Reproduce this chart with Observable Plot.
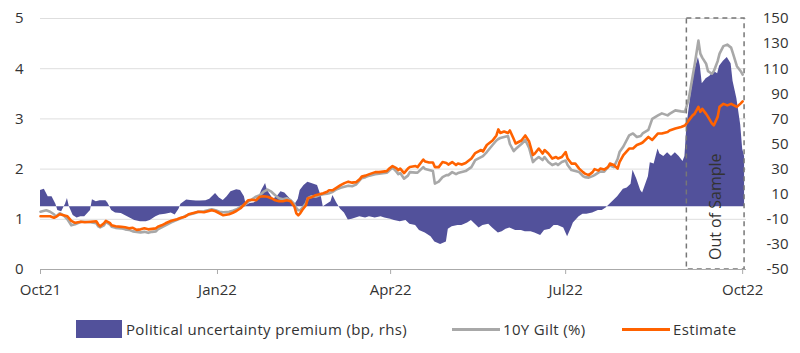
<!DOCTYPE html>
<html>
<head>
<meta charset="utf-8">
<script src="https://cdn.jsdelivr.net/npm/d3@7"></script>
<script src="https://cdn.jsdelivr.net/npm/@observablehq/plot@0.6"></script>
<style>
  html, body { margin: 0; padding: 0; background: #fff; }
  body { width: 800px; height: 353px; overflow: hidden; font-family: "Open Sans", sans-serif; color: #333; }
  #chart svg { display: block; }
  #legend { position: relative; height: 48px; }
  #legend .item { position: absolute; top: 15px; height: 18px; display: flex; align-items: center; font-size: 15px; letter-spacing: 0.35px; white-space: nowrap; color: #333; }
  #legend .box { width: 46px; height: 18px; margin-right: 4px; }
  #legend .ln { width: 48px; height: 3px; margin-right: 3px; }
</style>
</head>
<body>
<div id="chart"></div>
<div id="legend"></div>
<script>
// ---------- data ----------
const lineDates = [
  "2021-10-01","2021-10-04","2021-10-06","2021-10-08","2021-10-09","2021-10-11","2021-10-13","2021-10-15","2021-10-17","2021-10-19",
  "2021-10-22","2021-10-24","2021-10-27","2021-10-30","2021-10-31","2021-11-01","2021-11-03","2021-11-04","2021-11-06","2021-11-07",
  "2021-11-09","2021-11-12","2021-11-14","2021-11-16","2021-11-18","2021-11-20","2021-11-22","2021-11-24","2021-11-26","2021-11-28",
  "2021-11-30","2021-12-01","2021-12-03","2021-12-05","2021-12-08","2021-12-11","2021-12-13","2021-12-15","2021-12-17","2021-12-20",
  "2021-12-22","2021-12-25","2021-12-27","2021-12-29","2021-12-31","2022-01-02","2022-01-04","2022-01-07","2022-01-09","2022-01-11",
  "2022-01-13","2022-01-15","2022-01-17","2022-01-19","2022-01-21","2022-01-23","2022-01-25","2022-01-27","2022-01-29","2022-01-31",
  "2022-02-02","2022-02-04","2022-02-06","2022-02-08","2022-02-10","2022-02-11","2022-02-12","2022-02-13","2022-02-14","2022-02-16",
  "2022-02-17","2022-02-19","2022-02-21","2022-02-23","2022-02-25","2022-02-27","2022-02-28","2022-03-02","2022-03-04","2022-03-06",
  "2022-03-08","2022-03-10","2022-03-12","2022-03-14","2022-03-16","2022-03-17","2022-03-19","2022-03-21","2022-03-24","2022-03-26",
  "2022-03-28","2022-03-30","2022-03-31","2022-04-02","2022-04-04","2022-04-05","2022-04-06","2022-04-08","2022-04-10","2022-04-11",
  "2022-04-14","2022-04-15","2022-04-18","2022-04-19","2022-04-21","2022-04-23","2022-04-24","2022-04-26","2022-04-28","2022-04-30",
  "2022-05-01","2022-05-03","2022-05-05","2022-05-06","2022-05-08","2022-05-10","2022-05-13","2022-05-15","2022-05-18","2022-05-19",
  "2022-05-21","2022-05-24","2022-05-26","2022-05-27","2022-05-28","2022-05-30","2022-06-01","2022-06-02","2022-06-04","2022-06-05",
  "2022-06-08","2022-06-10","2022-06-12","2022-06-14","2022-06-15","2022-06-17","2022-06-19","2022-06-20","2022-06-22","2022-06-24",
  "2022-06-26","2022-06-27","2022-06-29","2022-07-01","2022-07-02","2022-07-04","2022-07-06","2022-07-08","2022-07-10","2022-07-11",
  "2022-07-13","2022-07-15","2022-07-16","2022-07-18","2022-07-19","2022-07-21","2022-07-23","2022-07-24","2022-07-26","2022-07-28",
  "2022-07-29","2022-07-31","2022-08-03","2022-08-05","2022-08-07","2022-08-09","2022-08-10","2022-08-13","2022-08-15","2022-08-18",
  "2022-08-20","2022-08-23","2022-08-24","2022-08-27","2022-08-30","2022-09-01","2022-09-03","2022-09-05","2022-09-06","2022-09-08",
  "2022-09-09","2022-09-10","2022-09-12","2022-09-13","2022-09-15","2022-09-16","2022-09-18","2022-09-19","2022-09-21","2022-09-23",
  "2022-09-25","2022-09-26","2022-09-28","2022-09-30","2022-10-01"
];
const estimate = [
  1.06,1.06,1.06,1.03,1.05,1.10,1.08,1.06,0.97,0.93,
  0.95,0.94,0.95,0.96,0.90,0.86,0.92,0.97,0.93,0.88,
  0.86,0.85,0.84,0.82,0.83,0.79,0.80,0.82,0.80,0.81,
  0.82,0.85,0.88,0.92,0.97,1.00,1.03,1.05,1.10,1.13,
  1.15,1.14,1.16,1.18,1.16,1.12,1.08,1.10,1.13,1.17,
  1.22,1.30,1.38,1.39,1.38,1.45,1.46,1.45,1.42,1.38,
  1.36,1.36,1.38,1.36,1.25,1.12,1.08,1.12,1.18,1.28,
  1.42,1.44,1.48,1.50,1.52,1.55,1.58,1.58,1.63,1.68,
  1.72,1.75,1.73,1.74,1.80,1.85,1.87,1.90,1.94,1.94,
  1.95,1.96,2.00,2.06,2.02,1.98,2.01,1.92,2.01,2.04,
  2.06,2.04,2.19,2.15,2.13,2.13,2.04,2.04,2.14,2.12,
  2.09,2.14,2.08,2.11,2.09,2.12,2.21,2.32,2.38,2.35,
  2.48,2.57,2.67,2.79,2.72,2.75,2.72,2.77,2.60,2.51,
  2.57,2.67,2.55,2.28,2.31,2.41,2.31,2.38,2.31,2.21,
  2.24,2.21,2.24,2.34,2.21,2.11,2.11,2.01,1.94,1.91,
  1.88,1.94,2.00,1.97,2.01,1.99,2.04,2.11,2.08,2.01,
  2.14,2.28,2.41,2.41,2.48,2.51,2.53,2.64,2.58,2.71,
  2.71,2.74,2.77,2.81,2.84,2.87,2.97,3.07,3.10,3.24,
  3.14,3.20,3.10,3.04,2.91,2.87,3.04,3.24,3.30,3.27,
  3.30,3.28,3.24,3.31,3.35
];
const gilt = [
  1.15,1.18,1.15,1.10,1.05,1.12,1.08,1.00,0.88,0.90,
  0.95,0.95,0.94,0.92,0.86,0.84,0.88,0.95,0.90,0.85,
  0.83,0.82,0.80,0.79,0.76,0.75,0.74,0.75,0.73,0.75,
  0.76,0.80,0.84,0.88,0.94,0.99,1.02,1.06,1.09,1.12,
  1.15,1.16,1.18,1.20,1.18,1.15,1.14,1.15,1.17,1.20,
  1.25,1.28,1.35,1.40,1.45,1.48,1.55,1.59,1.55,1.48,
  1.42,1.40,1.42,1.38,1.30,1.22,1.18,1.18,1.22,1.32,
  1.42,1.46,1.45,1.48,1.50,1.51,1.52,1.55,1.60,1.63,
  1.65,1.67,1.66,1.69,1.78,1.82,1.84,1.87,1.90,1.91,
  1.92,1.93,1.96,2.03,1.95,1.90,1.92,1.81,1.87,1.94,
  1.93,1.93,2.04,2.00,1.98,1.96,1.71,1.75,1.84,1.88,
  1.88,1.94,1.90,1.92,1.94,1.96,2.04,2.18,2.24,2.26,
  2.34,2.48,2.57,2.60,2.62,2.64,2.66,2.50,2.36,2.40,
  2.50,2.58,2.42,2.14,2.18,2.24,2.18,2.24,2.14,2.08,
  2.11,2.08,2.14,2.17,2.08,1.98,1.96,1.94,1.86,1.84,
  1.83,1.86,1.88,1.93,1.95,1.95,2.04,2.07,2.04,2.20,
  2.34,2.45,2.67,2.71,2.64,2.66,2.71,2.78,3.00,3.07,
  3.11,3.07,3.10,3.17,3.15,3.14,3.40,3.85,4.07,4.56,
  4.30,4.22,4.10,3.95,3.90,3.95,4.15,4.30,4.45,4.48,
  4.42,4.30,4.05,3.95,3.88
];
const premiumDates = [
  "2021-10-01","2021-10-03","2021-10-05","2021-10-07","2021-10-09","2021-10-10","2021-10-12","2021-10-14","2021-10-15","2021-10-16",
  "2021-10-18","2021-10-20","2021-10-22","2021-10-24","2021-10-27","2021-10-28","2021-10-30","2021-11-01","2021-11-04","2021-11-05",
  "2021-11-07","2021-11-09","2021-11-12","2021-11-14","2021-11-17","2021-11-19","2021-11-22","2021-11-25","2021-11-27","2021-11-30",
  "2021-12-02","2021-12-05","2021-12-08","2021-12-10","2021-12-12","2021-12-13","2021-12-16","2021-12-18","2021-12-21","2021-12-23",
  "2021-12-26","2021-12-28","2021-12-31","2022-01-02","2022-01-04","2022-01-06","2022-01-08","2022-01-11","2022-01-13","2022-01-15",
  "2022-01-16","2022-01-18","2022-01-20","2022-01-22","2022-01-24","2022-01-26","2022-01-27","2022-01-30","2022-02-01","2022-02-03",
  "2022-02-05","2022-02-08","2022-02-10","2022-02-12","2022-02-13","2022-02-15","2022-02-17","2022-02-19","2022-02-22","2022-02-24",
  "2022-02-25","2022-02-27","2022-03-01","2022-03-02","2022-03-04","2022-03-06","2022-03-08","2022-03-10","2022-03-12","2022-03-14",
  "2022-03-16","2022-03-19","2022-03-21","2022-03-24","2022-03-27","2022-03-29","2022-04-01","2022-04-03","2022-04-06","2022-04-09",
  "2022-04-11","2022-04-14","2022-04-16","2022-04-19","2022-04-22","2022-04-24","2022-04-27","2022-04-30","2022-05-01","2022-05-03",
  "2022-05-06","2022-05-08","2022-05-11","2022-05-13","2022-05-15","2022-05-17","2022-05-19","2022-05-22","2022-05-24","2022-05-27",
  "2022-05-29","2022-05-31","2022-06-02","2022-06-05","2022-06-08","2022-06-10","2022-06-13","2022-06-15","2022-06-18","2022-06-20",
  "2022-06-23","2022-06-25","2022-06-27","2022-06-30","2022-07-02","2022-07-04","2022-07-05","2022-07-08","2022-07-10","2022-07-12",
  "2022-07-15","2022-07-18","2022-07-20","2022-07-22","2022-07-24","2022-07-26","2022-07-28","2022-07-31","2022-08-02","2022-08-04",
  "2022-08-05","2022-08-07","2022-08-09","2022-08-10","2022-08-13","2022-08-14","2022-08-16","2022-08-18","2022-08-19","2022-08-21",
  "2022-08-23","2022-08-25","2022-08-27","2022-08-29","2022-08-31","2022-09-01","2022-09-02","2022-09-04","2022-09-06","2022-09-08",
  "2022-09-09","2022-09-10","2022-09-12","2022-09-14","2022-09-16","2022-09-18","2022-09-19","2022-09-21","2022-09-23","2022-09-25",
  "2022-09-26","2022-09-28","2022-09-30","2022-10-01","2022-10-02"
];
const premium = [
  13,14,8,8,2,-3,-4,2,6.6,0,
  -7,-9,-8,-8,-3,5.6,4,4.7,4.7,3,
  -3,-5,-5.3,-7,-9.3,-11,-12,-12,-11,-8,
  -6.6,-6,-5,-6.6,-2,2,5.3,5,4.5,4.5,
  4.7,6,10.6,7,5,8,11.9,13.5,13,8,
  1,2.6,3,5,13,18.5,13,6,7.9,12,
  11,6,1,6,13,17,19.5,18.5,17,8,
  0,2,4,9,3,-2,-5,-10.6,-10,-9,
  -8,-9,-8,-9,-8,-9,-10,-11,-12,-11,
  -14,-15,-19,-21,-24,-28,-30,-28,-18,-16,
  -15,-15,-13,-11,-14,-17,-15,-14,-17,-21,
  -20,-18,-17,-19,-19,-20,-20,-21,-23,-19,
  -18,-15,-15,-17,-24,-17,-13,-8,-6,-6,
  -5,-3,-3,-1,2,5,8,14,15,18,
  29,22,13,11,24,35,34,46,42,40,
  43,40,43,40,36,40,64,88,108,119,
  112,98,102,104,108,106,112,116,119,114,
  100,86,65,46,40
];
const seriesNames = ["Political uncertainty premium (bp, rhs)", "10Y Gilt (%)", "Estimate"];
const seriesColors = ["#52519b", "#a8a8a8", "#ff6200"];
const leftTicks = [0, 1, 2, 3, 4, 5];
const rightTicks = [150, 130, 110, 90, 70, 50, 30, 10, -10, -30, -50];
const xTickDates = ["2021-10-01", "2022-01-01", "2022-04-01", "2022-07-01", "2022-10-01"];
const xTickLabels = ["Oct21", "Jan22", "Apr22", "Jul22", "Oct22"];
const outOfSample = [{start: "2022-09-02", end: "2022-10-02", mid: "2022-09-17", label: "Out of Sample"}];
const xDomain = ["2021-10-01", "2022-10-03"];
// rhs (bp) -> lhs (%) mapping of the twin axes: -50..150 bp <-> 0..5 %
const rhsToLhs = r => (r + 50) / 40;
const lhsToRhs = v => Math.round(v * 40 - 50);

// ---------- build ----------
const parse = s => new Date(s + "T00:00:00Z");
const lines = lineDates.map((d, i) => ({date: parse(d), est: estimate[i], gilt: gilt[i]}));
const prem = premiumDates.map((d, i) => ({date: parse(d), r: premium[i]}));
const tickDates = xTickDates.map(parse);
const fmtX = d => xTickLabels[tickDates.findIndex(t => +t === +d)];

const chart = Plot.plot({
  width: 800,
  height: 305,
  marginLeft: 40,
  marginRight: 54,
  marginTop: 18,
  marginBottom: 36,
  style: {fontFamily: "'Open Sans', sans-serif", fontSize: "15px", color: "#333", background: "#fff", overflow: "visible"},
  x: {type: "utc", domain: xDomain.map(parse)},
  y: {domain: [0, 5]},
  marks: [
    Plot.ruleY(leftTicks.filter(v => v > 0), {stroke: "#dedede", strokeWidth: 1}),
    Plot.areaY(prem, {x: "date", y1: rhsToLhs(0), y2: d => rhsToLhs(d.r), fill: seriesColors[0]}),
    Plot.lineY(lines, {x: "date", y: "gilt", stroke: seriesColors[1], strokeWidth: 2.6}),
    Plot.lineY(lines, {x: "date", y: "est", stroke: seriesColors[2], strokeWidth: 2.6}),
    Plot.rect(outOfSample, {x1: d => parse(d.start), x2: d => parse(d.end), y1: 0, y2: 5, fill: "none", stroke: "#777", strokeWidth: 1.5, strokeDasharray: "5,4"}),
    Plot.text(outOfSample, {x: d => parse(d.mid), y: rhsToLhs(0), text: "label", rotate: -90, fontSize: 16, fill: "#333"}),
    Plot.ruleY([0], {stroke: "#aaa", strokeWidth: 1}),
    Plot.axisX(tickDates, {anchor: "bottom", tickSize: 5, tickPadding: 10, stroke: "#aaa", tickFormat: fmtX, label: null, fill: "#333"}),
    Plot.axisY(leftTicks, {anchor: "left", tickSize: 0, tickPadding: 17, tickFormat: v => String(v), label: null, fill: "#333"}),
    Plot.axisY(rightTicks.map(rhsToLhs), {anchor: "right", tickSize: 0, tickPadding: 42, textAnchor: "end", tickFormat: v => String(lhsToRhs(v)), label: null, fill: "#333"})
  ]
});
document.getElementById("chart").appendChild(chart);

// ---------- legend ----------
const legend = document.getElementById("legend");
const legendLeft = [76, 452, 622];
seriesNames.forEach((name, i) => {
  const item = document.createElement("div");
  item.className = "item";
  item.style.left = legendLeft[i] + "px";
  const sw = document.createElement("span");
  sw.className = i === 0 ? "box" : "ln";
  sw.style.background = seriesColors[i];
  const tx = document.createElement("span");
  tx.textContent = name;
  item.appendChild(sw);
  item.appendChild(tx);
  legend.appendChild(item);
});
</script>
</body>
</html>
